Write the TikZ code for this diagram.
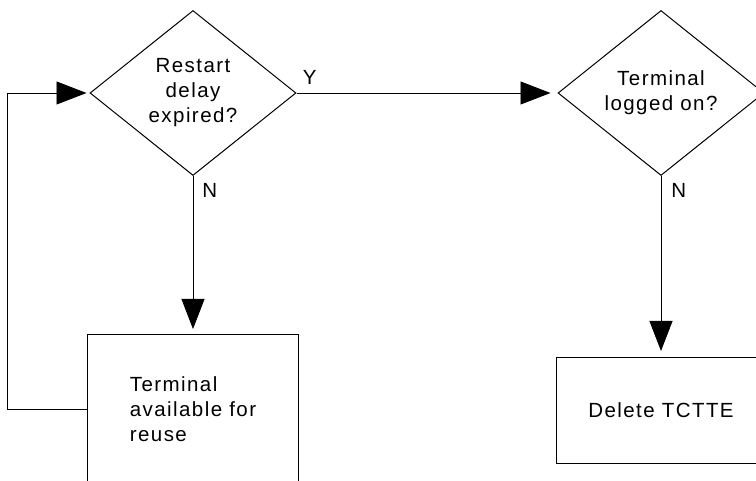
\documentclass[tikz,border=0pt]{standalone}
\usepackage{fontspec}
\setmainfont{Liberation Sans}[LetterSpace=7]
\usetikzlibrary{arrows.meta, positioning, shapes.geometric}
\newcommand{\flowfont}{\fontsize{20.5}{25}\selectfont}

\begin{document}
\begin{tikzpicture}[x=1pt, y=-1pt,
   dec/.style={diamond, draw, line width=1pt, minimum width=206pt, minimum height=165pt,
               inner sep=0pt, align=center, font=\flowfont},
   act/.style={rectangle, draw, line width=1pt, minimum width=211pt, font=\flowfont},
   flow/.style={line width=0.8pt, -{Triangle[length=30pt, width=23pt]}},
   lbl/.style={inner sep=0pt, font=\flowfont}]
  \useasboundingbox (0,0) rectangle (756,481);
  \clip (0,0) rectangle (756,481);
  \node[dec] (expired) at (193,93) {Restart\\delay\\expired?};
  \node[dec, right=261pt of expired] (loggedon) {Terminal\\logged on?};
  \node[act, minimum height=150pt, align=left, below=158pt of expired] (reuse) {Terminal\\available for\\reuse};
  \node[act, minimum width=210pt, minimum height=106pt, below=181pt of loggedon] (delete) {Delete TCTTE};
  \coordinate[left=80pt of reuse.west] (back);

  \draw[flow, shorten >=7pt] (expired.east) -- node[lbl, pos=0, above right=8pt and 6pt]{Y} (loggedon.west);
  \draw[flow, shorten >=5pt] (expired.south) -- node[lbl, pos=0, below right=7pt and 9pt]{N} (reuse.north);
  \draw[flow, shorten >=6pt] (loggedon.south) -- node[lbl, pos=0, below right=7pt and 10pt]{N} (delete.north);
  \draw[flow, shorten >=3pt] (reuse.west) -- (back) |- (expired.west);
\end{tikzpicture}
\end{document}
